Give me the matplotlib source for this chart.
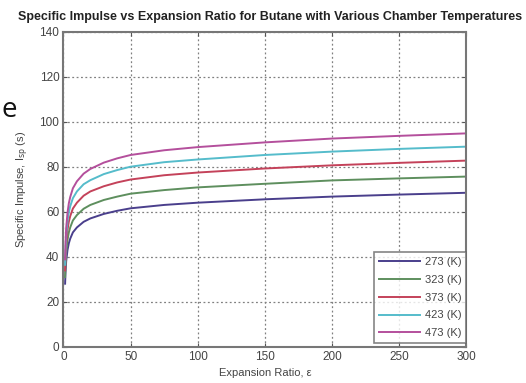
import matplotlib
matplotlib.use("Agg")
import matplotlib.pyplot as plt

plt.rcParams['font.family'] = ['Liberation Sans', 'DejaVu Sans']

eps = [1.2, 1.5, 2, 3, 4, 5, 7, 10, 15, 20, 30, 40, 50, 75, 100, 150, 200, 250, 300]
isp_273 = [28, 33, 38, 43, 46, 48, 50.8, 53, 55.5, 57, 59, 60.4, 61.5, 63, 64, 65.5, 66.7, 67.6, 68.4]
isp_323 = [30.9, 36.5, 42, 47.5, 50.8, 53, 56.1, 58.5, 61.3, 63, 65.2, 66.7, 68, 69.6, 70.8, 72.4, 73.9, 74.8, 75.6]
isp_373 = [33.9, 40, 46, 52, 55.6, 58, 61.4, 64, 67.1, 69, 71.3, 73.0, 74.3, 76.2, 77.4, 79.2, 80.6, 81.7, 82.7]
isp_423 = [36.4, 43, 49.4, 56, 59.8, 62.4, 66.0, 69, 72.2, 74, 76.7, 78.5, 80, 82, 83.2, 85.2, 86.7, 87.9, 88.9]
isp_473 = [38.8, 45.7, 52.7, 59.6, 63.8, 66.5, 70.4, 73.5, 76.9, 79, 81.8, 83.7, 85.2, 87.3, 88.7, 90.8, 92.5, 93.7, 94.8]
labels = ['273 (K)', '323 (K)', '373 (K)', '423 (K)', '473 (K)']
colors = ['#4a3f8c', '#5e8f5e', '#c4425a', '#55bccb', '#b44f9c']
xticks = [0, 50, 100, 150, 200, 250, 300]
yticks = [0, 20, 40, 60, 80, 100, 120, 140]

fig = plt.figure(figsize=(5.26, 3.83), dpi=100)
ax = fig.add_axes([0.1207, 0.0948, 0.7658, 0.8225])

for ys, lab, c in zip([isp_273, isp_323, isp_373, isp_423, isp_473], labels, colors):
    ax.plot(eps, ys, color=c, lw=1.4, label=lab)

ax.set_xlim(0, 300)
ax.set_ylim(0, 140)
ax.set_xticks(xticks)
ax.set_yticks(yticks)
ax.grid(True, linestyle=(0, (1.5, 2)), color='#808080', lw=0.9)
ax.tick_params(direction='in', top=True, right=True, labelsize=8.5, colors='#555555',
               labelcolor='#444444', length=3, pad=3)
for s in ax.spines.values():
    s.set_color('#777777')
    s.set_linewidth(1.5)

ax.set_xlabel('Expansion Ratio, \u03b5', fontsize=8, color='#444444', labelpad=4)
ax.set_ylabel('Specific Impulse, I$_{\\mathrm{sp}}$ (s)', fontsize=8, color='#444444', labelpad=6)
fig.text(0.514, 0.956, 'Specific Impulse vs Expansion Ratio for Butane with Various Chamber Temperatures',
         ha='center', va='center', fontsize=9.0, fontweight='bold', color='#222222')

leg = ax.legend(loc='lower right', bbox_to_anchor=(1.0, 0.012), borderaxespad=0,
                fontsize=8, frameon=True, fancybox=False,
                handlelength=3.7, labelspacing=0.7, handletextpad=0.45,
                borderpad=0.42)
leg.get_frame().set_edgecolor('#666666')
leg.get_frame().set_linewidth(1.2)
for t in leg.get_texts():
    t.set_color('#444444')

fig.text(0.003, 0.713, 'e', fontsize=20, ha='left', va='center', color='#111111',
         family=['Open Sans', 'DejaVu Sans'])

fig.savefig('out.png', dpi=100)
